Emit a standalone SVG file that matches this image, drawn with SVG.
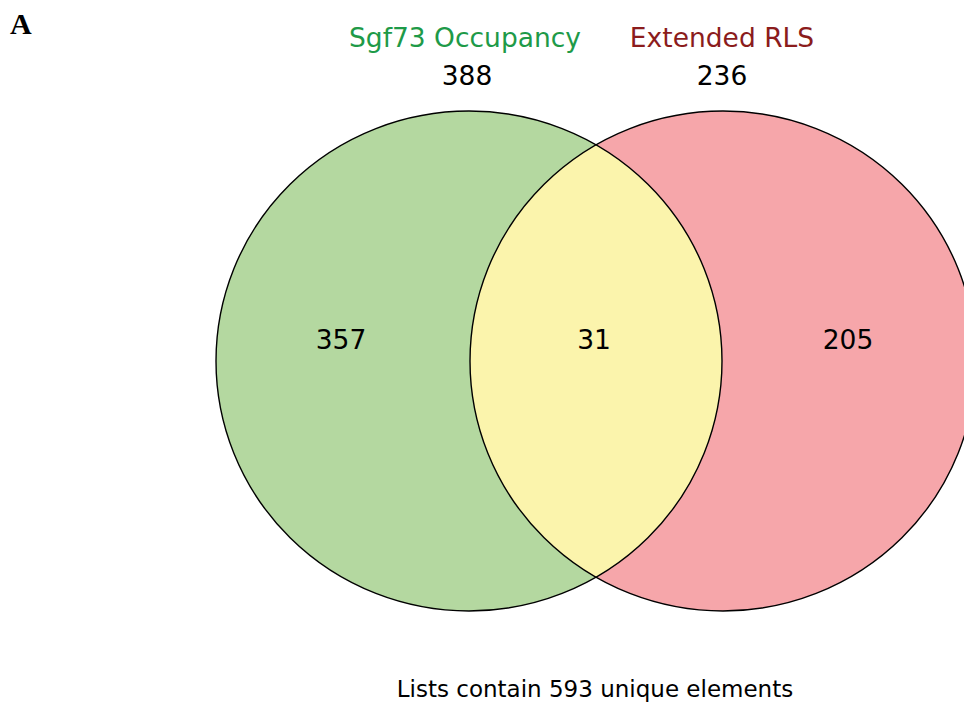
<svg xmlns="http://www.w3.org/2000/svg" width="964" height="703" viewBox="0 0 964 703">
<style>
.lbl{font-family:"DejaVu Sans","Verdana",sans-serif;font-size:26.5px;text-anchor:middle}
.num{font-family:"DejaVu Sans","Verdana",sans-serif;font-size:26.5px;text-anchor:middle;fill:#000}
.edge{fill:none;stroke:#000;stroke-width:1.4}
</style>
<defs>
<clipPath id="clipGreen"><ellipse cx="469" cy="361" rx="253" ry="250"/></clipPath>
</defs>
<rect width="964" height="703" fill="#fff"/>
<text x="10" y="34" font-family="Liberation Serif, serif" font-weight="bold" font-size="30" fill="#000">A</text>
<g id="set-sgf73">
<ellipse cx="469" cy="361" rx="253" ry="250" fill="#b4d8a0"/>
</g>
<g id="set-rls">
<ellipse cx="723" cy="361" rx="253" ry="250" fill="#f6a6aa"/>
</g>
<g id="overlap">
<ellipse cx="723" cy="361" rx="253" ry="250" fill="#fbf4ac" clip-path="url(#clipGreen)"/>
</g>
<g id="outlines">
<ellipse class="edge" cx="469" cy="361" rx="253" ry="250"/>
<ellipse class="edge" cx="723" cy="361" rx="253" ry="250"/>
</g>
<g id="labels">
<text class="lbl" x="465" y="47" fill="#1e9a48">Sgf73 Occupancy</text>
<text class="lbl" x="722" y="47" fill="#8b1c1c">Extended RLS</text>
<text class="num" x="467" y="85">388</text>
<text class="num" x="722" y="85">236</text>
<text class="num" x="341" y="349">357</text>
<text class="num" x="594" y="349">31</text>
<text class="num" x="848" y="349">205</text>
<text x="595" y="697" font-family="DejaVu Sans, Verdana, sans-serif" font-size="23" text-anchor="middle" fill="#000">Lists contain 593 unique elements</text>
</g>
</svg>
